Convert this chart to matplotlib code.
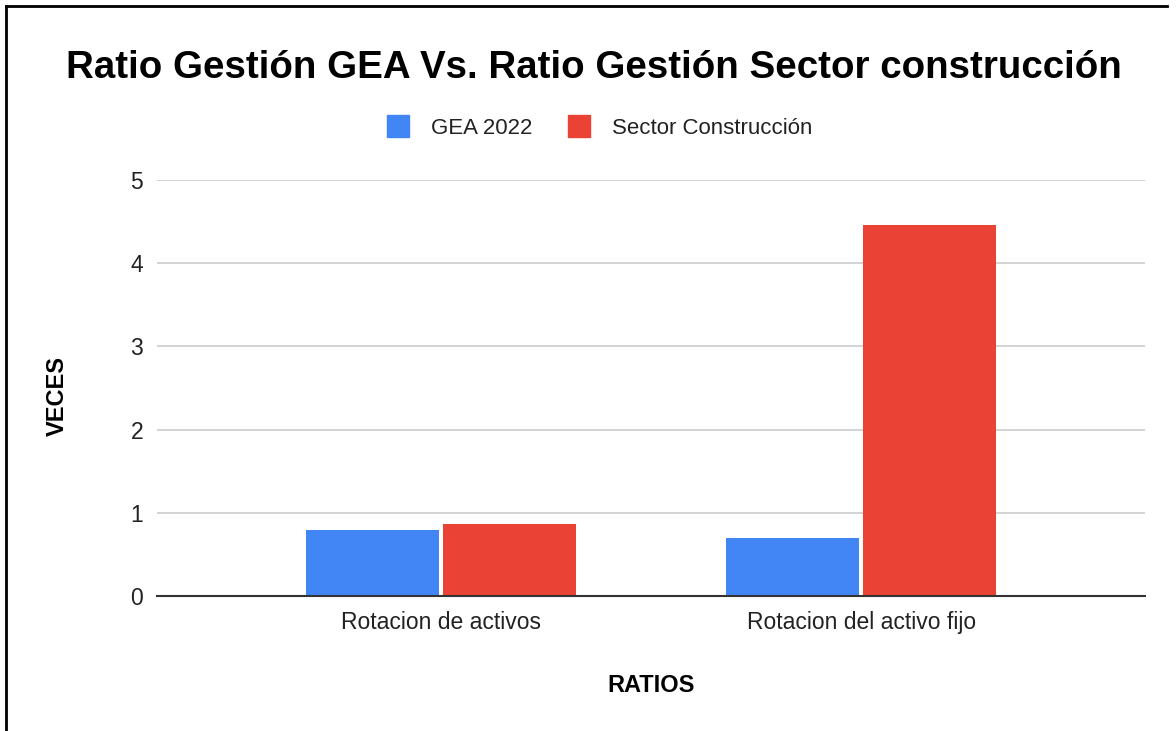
import numpy as np
import matplotlib.pyplot as plt
from matplotlib.lines import Line2D

plt.rcParams['font.family'] = ['Liberation Sans', 'DejaVu Sans']

categories = ['Rotacion de activos', 'Rotacion del activo fijo']
gea_2022 = [0.79, 0.70]
sector = [0.865, 4.46]
series_names = ['GEA 2022', 'Sector Construcción']
colors = ['#4285f4', '#ea4335']

fig = plt.figure(figsize=(11.76, 7.31), dpi=100)
ax = fig.add_axes((157 / 1176, 1 - 596 / 731, 988 / 1176, 416 / 731))

xlocs = np.arange(len(categories))
bar_width = 0.316
ax.bar(xlocs - bar_width / 2 - 0.005, gea_2022, bar_width, color=colors[0], zorder=3)
ax.bar(xlocs + bar_width / 2 + 0.005, sector, bar_width, color=colors[1], zorder=3)

ax.set_xlim(-0.674, 1.674)
ax.set_ylim(0, 5)
ax.set_yticks(range(6))
ax.set_xticks(xlocs)
ax.set_xticklabels(categories)
ax.tick_params(axis='both', length=0, labelsize=16.5, colors='#222222')
ax.tick_params(axis='x', pad=11)
ax.tick_params(axis='y', pad=10)
ax.yaxis.grid(True, color='#cccccc', linewidth=1.2, zorder=0)
for s in ('top', 'right', 'left'):
    ax.spines[s].set_visible(False)
ax.spines['bottom'].set_color('#333333')
ax.spines['bottom'].set_linewidth(1.5)
ax.spines['bottom'].set_zorder(4)

# axis titles
fig.text(57 / 1176, 1 - 396 / 731, 'VECES', rotation=90, ha='center', va='center',
         fontsize=17, fontweight='bold')
fig.text(651 / 1176, 1 - 685 / 731, 'RATIOS', ha='center', va='center',
         fontsize=17, fontweight='bold')

fig.text(594 / 1176, 1 - 68 / 731, 'Ratio Gestión GEA Vs. Ratio Gestión Sector construcción',
         ha='center', va='center', fontsize=27.7, fontweight='bold')

handles = [Line2D([], [], marker='s', linestyle='', markersize=16, color=c) for c in colors]
fig.legend(handles, series_names, loc='center', bbox_to_anchor=(594 / 1176, 1 - 128 / 731),
           ncol=2, frameon=False, fontsize=16, handletextpad=0.5, columnspacing=1.1,
           labelcolor='#222222')

# frame lines at left and top of the image
fig.add_artist(Line2D([6 / 1176, 6 / 1176], [0, 1 - 6 / 731], color='black', linewidth=2))
fig.add_artist(Line2D([6 / 1176, 1167 / 1176], [1 - 6 / 731, 1 - 6 / 731], color='black', linewidth=2))

fig.savefig('out.png', dpi=100)
